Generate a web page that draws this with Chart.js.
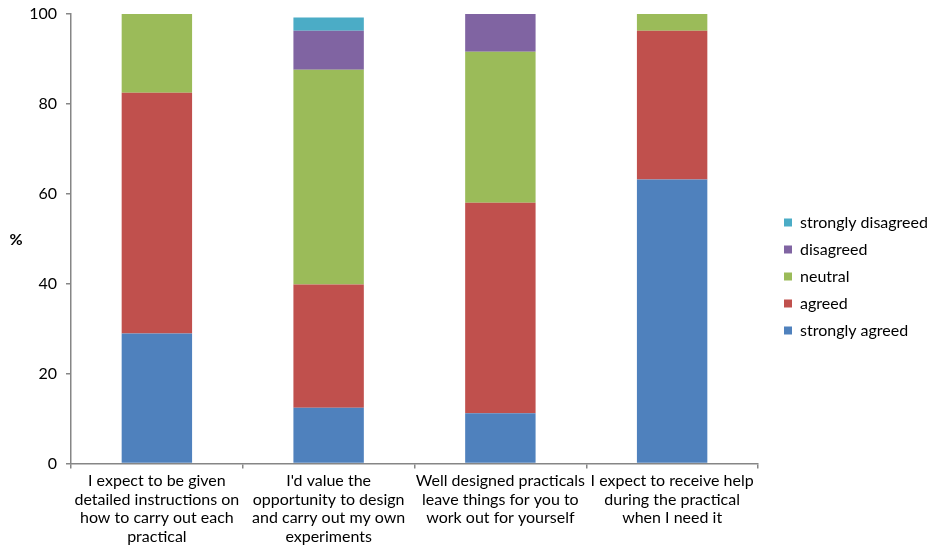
<!DOCTYPE html>
<html><head><meta charset="utf-8">
<script src="https://cdn.jsdelivr.net/npm/chart.js@4.4.0/dist/chart.umd.min.js"></script>
<style>html,body{margin:0;padding:0;background:#fff;}</style>
</head><body>
<canvas id="c" width="929" height="545"></canvas>
<script>
const categories = [
  ["I expect to be given", "detailed instructions on", "how to carry out each", "practical"],
  ["I'd value the", "opportunity to design", "and carry out my own", "experiments"],
  ["Well designed practicals", "leave things for you to", "work out for yourself"],
  ["I expect to receive help", "during the practical", "when I need it"]
];
const seriesNames = ["strongly agreed", "agreed", "neutral", "disagreed", "strongly disagreed"];
const stronglyAgreed    = [28.9, 12.4, 11.2, 63.2];
const agreed            = [53.6, 27.4, 46.8, 33.1];
const neutral           = [17.5, 47.8, 33.6, 3.7];
const disagreed         = [0, 8.7, 8.4, 0];
const stronglyDisagreed = [0, 2.9, 0, 0];
const yTicks = [0, 20, 40, 60, 80, 100];
const colors = ["#4F81BD", "#C0504D", "#9BBB59", "#8064A2", "#4BACC6"];

const FONT = "Lato, 'Open Sans', sans-serif";
const AXIS = "#868686";

const legendNudge = {
  id: 'legendNudge',
  afterInit(chart) {
    const lg = chart.legend;
    if (!lg) return;
    const fit = lg.fit.bind(lg);
    lg.fit = function () { fit(); this.width = 171; };
    const draw = lg.draw.bind(lg);
    lg.draw = function () {
      const c = this.ctx; c.save(); c.translate(15, -3); draw(); c.restore();
    };
  }
};

const yTitle = {
  id: 'yTitle',
  afterDraw(chart) {
    const c = chart.ctx, a = chart.chartArea;
    c.save();
    c.font = "bold 16px " + FONT;
    c.fillStyle = "#000";
    c.textAlign = "center";
    c.textBaseline = "middle";
    c.fillText("%", 16, (a.top + a.bottom) / 2 + 1);
    c.restore();
  }
};

const allSeries = [stronglyAgreed, agreed, neutral, disagreed, stronglyDisagreed];

new Chart(document.getElementById('c'), {
  type: 'bar',
  data: {
    labels: categories,
    datasets: allSeries.map((d, i) => ({
      label: seriesNames[i],
      data: d,
      backgroundColor: colors[i],
      borderWidth: 0,
      categoryPercentage: 1,
      barPercentage: 0.41
    }))
  },
  options: {
    responsive: false,
    animation: false,
    devicePixelRatio: 1,
    layout: { padding: { top: 14, left: 0, right: 0, bottom: 0 } },
    plugins: {
      tooltip: { enabled: false },
      legend: {
        position: 'right',
        reverse: true,
        labels: {
          boxWidth: 8, boxHeight: 8, padding: 11,
          color: '#000',
          font: { family: FONT, size: 16 }
        }
      }
    },
    scales: {
      x: {
        stacked: true,
        afterFit(s) { s.height = 81.5; s.paddingLeft = 0; s.paddingRight = 0; },
        grid: { display: true, drawOnChartArea: false, offset: true, tickLength: 5, color: AXIS, lineWidth: 1.5 },
        border: { color: AXIS, width: 1.5 },
        ticks: {
          color: '#000', padding: 3, maxRotation: 0, autoSkip: false,
          font: { family: FONT, size: 16, lineHeight: 1.17 }
        }
      },
      y: {
        stacked: true,
        min: 0, max: 100,
        afterFit(s) { s.width = 71; s.paddingTop = 0; s.paddingBottom = 0; },
        afterBuildTicks(s) { s.ticks = yTicks.map(v => ({ value: v })); },
        grid: { display: true, drawOnChartArea: false, tickLength: 5, color: AXIS, lineWidth: 1.5 },
        border: { color: AXIS, width: 1.5 },
        ticks: {
          color: '#000', padding: 9,
          font: { family: FONT, size: 16 }
        }
      }
    }
  },
  plugins: [legendNudge, yTitle]
});
</script>
</body></html>
